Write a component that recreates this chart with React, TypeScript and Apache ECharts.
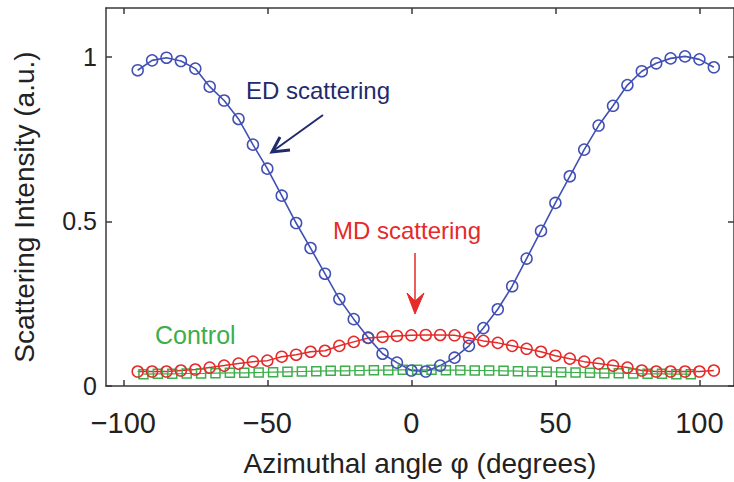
import React, { useEffect, useRef } from "react";
import * as echarts from "echarts";

const angles = [-95, -90, -85, -80, -75, -70, -65, -60, -55, -50, -45, -40, -35, -30, -25, -20, -15, -10, -5, 0, 5, 10, 15, 20, 25, 30, 35, 40, 45, 50, 55, 60, 65, 70, 75, 80, 85, 90, 95, 100, 105];
const edIntensity = [0.959, 0.989, 0.997, 0.987, 0.964, 0.909, 0.867, 0.811, 0.733, 0.66, 0.578, 0.495, 0.419, 0.341, 0.264, 0.203, 0.147, 0.098, 0.071, 0.047, 0.044, 0.062, 0.086, 0.122, 0.176, 0.233, 0.303, 0.387, 0.471, 0.556, 0.637, 0.718, 0.791, 0.851, 0.914, 0.956, 0.98, 0.995, 1.001, 0.992, 0.968];
const mdIntensity = [0.044, 0.044, 0.044, 0.047, 0.05, 0.056, 0.062, 0.068, 0.074, 0.077, 0.089, 0.095, 0.104, 0.107, 0.122, 0.134, 0.146, 0.149, 0.152, 0.154, 0.155, 0.155, 0.154, 0.146, 0.137, 0.131, 0.122, 0.113, 0.104, 0.092, 0.083, 0.074, 0.068, 0.062, 0.056, 0.047, 0.044, 0.044, 0.044, 0.044, 0.047];
const controlAngles = [-93, -88, -83, -78, -73, -68, -63, -58, -53, -48, -43, -38, -33, -28, -23, -18, -13, -8, -3, 2, 7, 12, 17, 22, 27, 32, 37, 42, 47, 52, 57, 62, 67, 72, 77, 82, 87, 92, 97];
const controlIntensity = [0.036, 0.037, 0.037, 0.038, 0.038, 0.039, 0.04, 0.04, 0.041, 0.042, 0.043, 0.044, 0.045, 0.046, 0.046, 0.047, 0.048, 0.048, 0.049, 0.049, 0.049, 0.048, 0.048, 0.047, 0.047, 0.046, 0.045, 0.044, 0.043, 0.042, 0.041, 0.04, 0.039, 0.039, 0.038, 0.037, 0.037, 0.036, 0.036];
const xTicks = [-100, -50, 0, 50, 100];
const yTicks = [0, 0.5, 1];

const BLUE = "#4150b4";
const NAVY = "#1f2b6c";
const RED = "#e62a2a";
const GREEN = "#3cae4a";
const AXIS = "#3a3a3a";
const FONT = "'Liberation Sans', Arial, sans-serif";

const pairs = (xs: number[], ys: number[]) => xs.map((x, i) => [x, ys[i]]);

export default function App() {
  const ref = useRef<HTMLDivElement>(null);
  useEffect(() => {
    if (!ref.current) return;
    const chart = echarts.init(ref.current, undefined, { renderer: "svg" });
    const fmtX = (v: number) => (v < 0 ? "\u2212" + Math.abs(v) : String(v));
    const baseX = {
      type: "value",
      min: -106,
      max: 112,
      splitLine: { show: false },
      axisLine: { show: true, onZero: false, lineStyle: { color: AXIS, width: 1.5 } },
    };
    const baseY = {
      type: "value",
      min: 0,
      max: 1.148,
      splitLine: { show: false },
      axisLine: { show: true, onZero: false, lineStyle: { color: AXIS, width: 1.5 } },
    };
    const option = {
      animation: false,
      backgroundColor: "#ffffff",
      grid: { left: 106, right: 0, top: 8, bottom: 93, containLabel: false },
      xAxis: [
        {
          ...baseX,
          position: "bottom",
          name: "Azimuthal angle \u03c6 (degrees)",
          nameLocation: "middle",
          nameGap: 63,
          nameTextStyle: { fontFamily: FONT, fontSize: 28, color: "#222" },
          axisTick: { show: true, inside: true, length: 6, customValues: xTicks, lineStyle: { color: AXIS, width: 1.5 } },
          axisLabel: { show: true, customValues: xTicks, formatter: fmtX, margin: 22, fontFamily: FONT, fontSize: 29, color: "#222" },
        },
        {
          ...baseX,
          position: "top",
          axisTick: { show: true, inside: true, length: 6, customValues: xTicks, lineStyle: { color: AXIS, width: 1.5 } },
          axisLabel: { show: false },
        },
      ],
      yAxis: [
        {
          ...baseY,
          position: "left",
          name: "Scattering Intensity (a.u.)",
          nameLocation: "middle",
          nameGap: 68,
          nameTextStyle: { fontFamily: FONT, fontSize: 28, color: "#222", padding: [0, 20, 0, 0] },
          axisTick: { show: true, inside: true, length: 6, customValues: yTicks, lineStyle: { color: AXIS, width: 1.5 } },
          axisLabel: { show: true, customValues: yTicks, margin: 9, fontFamily: FONT, fontSize: 25, color: "#222" },
        },
        {
          ...baseY,
          position: "right",
          axisTick: { show: true, inside: true, length: 6, customValues: yTicks, lineStyle: { color: AXIS, width: 1.5 } },
          axisLabel: { show: false },
        },
      ],
      series: [
        {
          name: "Control",
          type: "line",
          data: pairs(controlAngles, controlIntensity),
          symbol: "rect",
          symbolSize: 9,
          showAllSymbol: true,
          lineStyle: { color: GREEN, width: 1.2 },
          itemStyle: { color: "transparent", borderColor: GREEN, borderWidth: 1.5 },
        },
        {
          name: "MD scattering",
          type: "line",
          data: pairs(angles, mdIntensity),
          symbol: "circle",
          symbolSize: 11,
          showAllSymbol: true,
          lineStyle: { color: RED, width: 1.5 },
          itemStyle: { color: "transparent", borderColor: RED, borderWidth: 1.5 },
        },
        {
          name: "ED scattering",
          type: "line",
          data: pairs(angles, edIntensity),
          symbol: "circle",
          symbolSize: 11,
          showAllSymbol: true,
          lineStyle: { color: BLUE, width: 1.6 },
          itemStyle: { color: "transparent", borderColor: BLUE, borderWidth: 1.5 },
        },
      ],
      graphic: [
        {
          type: "text",
          left: 246,
          top: 78,
          style: { text: "ED scattering", fill: NAVY, font: `24px ${FONT}` },
        },
        {
          type: "line",
          shape: { x1: 323, y1: 115, x2: 273, y2: 151 },
          style: { stroke: NAVY, lineWidth: 2 },
        },
        {
          type: "polyline",
          shape: { points: [[280, 137], [272, 152], [290, 150]] },
          style: { stroke: NAVY, lineWidth: 3, fill: null },
        },
        {
          type: "text",
          left: 333,
          top: 218,
          style: { text: "MD scattering", fill: RED, font: `24px ${FONT}` },
        },
        {
          type: "line",
          shape: { x1: 415, y1: 253, x2: 415, y2: 304 },
          style: { stroke: RED, lineWidth: 1.5 },
        },
        {
          type: "polygon",
          shape: { points: [[407, 293], [415, 314], [424, 293], [415, 301]] },
          style: { fill: RED, stroke: RED, lineWidth: 1 },
        },
        {
          type: "text",
          left: 155,
          top: 322,
          style: { text: "Control", fill: GREEN, font: `25px ${FONT}` },
        },
      ],
    };
    chart.setOption(option as any);
    return () => chart.dispose();
  }, []);
  return (
    <div
      ref={ref}
      style={{ position: "fixed", left: 0, top: 0, width: 734, height: 482, background: "#fff" }}
    />
  );
}
